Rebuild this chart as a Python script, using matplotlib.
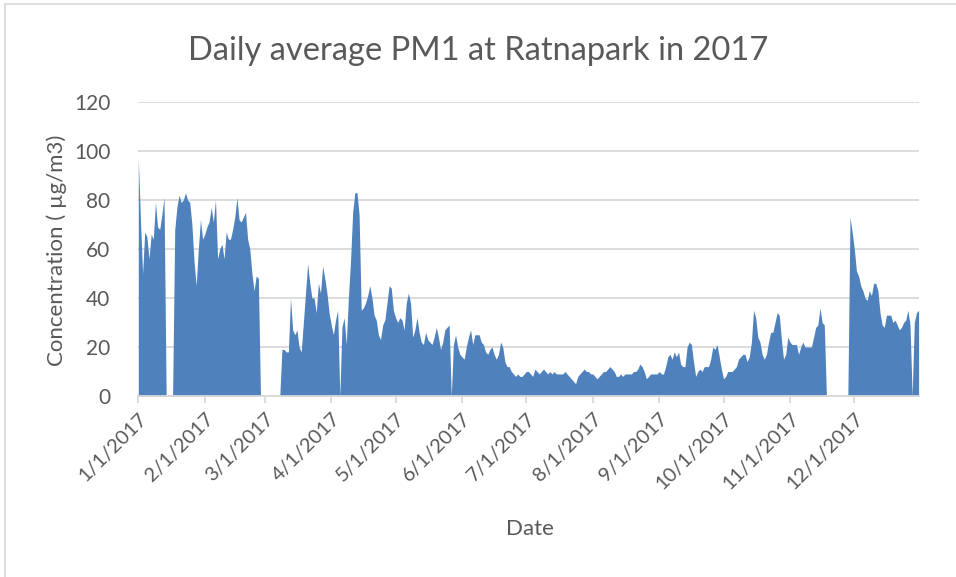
import numpy as np
import pandas as pd
import matplotlib
matplotlib.use('Agg')
from matplotlib import pyplot as plt
from matplotlib.patches import Rectangle

plt.rcParams['font.family'] = ['Lato', 'DejaVu Sans']

# daily average PM1 (ug/m3), one list per month, 0 = no data
jan = [97, 72, 50, 67, 65, 56, 66, 64, 79, 69, 68, 74, 81, 0, 0, 0, 0, 68, 77, 82,
       79, 80, 83, 80, 79, 70, 55, 45, 60, 72, 64]
feb = [66, 69, 71, 77, 71, 80, 56, 60, 62, 56, 67, 64, 64, 68, 73, 81, 72, 71, 73, 75,
       64, 60, 50, 43, 49, 48, 0, 0]
mar = [0, 0, 0, 0, 0, 0, 0, 0, 19, 19, 18, 18, 40, 27, 25, 27, 20, 18, 30, 42,
       54, 46, 40, 40, 34, 46, 42, 53, 48, 42, 34]
apr = [29, 25, 31, 35, 0, 28, 32, 21, 40, 55, 75, 83, 83, 74, 35, 36, 38, 41, 45, 40,
       33, 31, 25, 23, 29, 31, 38, 45, 44, 35]
may = [32, 30, 32, 31, 27, 38, 42, 38, 24, 27, 32, 26, 22, 21, 26, 23, 22, 21, 24, 28,
       24, 19, 22, 27, 28, 29, 0, 21, 25, 20, 17]
jun = [16, 15, 20, 24, 27, 21, 25, 25, 25, 22, 21, 18, 17, 19, 20, 17, 15, 17, 22, 20,
       14, 12, 12, 10, 9, 8, 9, 8, 8, 9]
jul = [10, 10, 9, 8, 11, 10, 9, 10, 11, 10, 9, 10, 9, 10, 9, 9, 9, 9, 10, 9,
       8, 7, 6, 5, 8, 9, 10, 11, 10, 10, 9]
aug = [9, 8, 7, 8, 9, 10, 10, 11, 12, 11, 10, 8, 8, 9, 8, 9, 9, 9, 9, 10,
       10, 11, 13, 12, 10, 7, 8, 9, 9, 9, 9]
sep = [10, 9, 9, 12, 16, 17, 15, 18, 16, 18, 13, 12, 12, 20, 22, 21, 14, 8, 10, 11,
       10, 12, 12, 12, 15, 20, 19, 21, 16, 11]
oct_ = [7, 8, 10, 10, 10, 11, 12, 15, 16, 17, 17, 14, 16, 22, 35, 32, 24, 22, 17, 15,
        17, 22, 26, 26, 30, 34, 33, 23, 15, 17, 24]
nov = [22, 21, 21, 21, 17, 20, 22, 20, 20, 20, 20, 24, 28, 29, 36, 30, 29, 0, 0, 0,
       0, 0, 0, 0, 0, 0, 0, 0, 73, 67]
dec = [60, 51, 49, 45, 43, 40, 39, 43, 41, 46, 46, 43, 34, 29, 28, 33, 33, 33, 30, 31,
       29, 27, 28, 30, 31, 35, 29, 0, 30, 34, 35]

pm1 = jan + feb + mar + apr + may + jun + jul + aug + sep + oct_ + nov + dec
dates = pd.date_range('2017-01-01', '2017-12-31', freq='D')
month_ticks = pd.date_range('2017-01-01', '2017-12-01', freq='MS')
tick_labels = ['%d/1/2017' % m for m in range(1, 13)]

grey = '#595959'
fig = plt.figure(figsize=(9.56, 5.77), dpi=100)
fig.patches.append(Rectangle((5 / 956, -0.1), 1.1, 1 - 3.5 / 577 + 0.1, transform=fig.transFigure,
                             fill=False, edgecolor='#D9D9D9', linewidth=1.2))
ax = fig.add_axes([138.3 / 956, 1 - 396 / 577, (918.6 - 138.3) / 956, (396 - 102) / 577])

ax.fill_between(dates, pm1, 0, color='#4F81BD', linewidth=0)
ax.set_xlim(dates[0], dates[-1])
ax.set_ylim(0, 120)
ax.set_yticks(range(0, 121, 20))
ax.yaxis.grid(True, color='#D9D9D9', linewidth=1.3)
ax.set_axisbelow(True)
ax.set_xticks(month_ticks)
ax.set_xticklabels(tick_labels, rotation=45, ha='right', rotation_mode='anchor')
for s in ['top', 'right', 'left']:
    ax.spines[s].set_visible(False)
ax.spines['bottom'].set_color('#D9D9D9')
ax.spines['bottom'].set_linewidth(1.3)
ax.tick_params(axis='x', colors='#D9D9D9', length=5, width=1.3, labelcolor=grey, labelsize=14.5, pad=5)
ax.tick_params(axis='y', length=0, labelcolor=grey, labelsize=15, pad=20)

fig.text(478 / 956, 1 - 60 / 577, 'Daily average PM1 at Ratnapark in 2017', color=grey,
         fontsize=23.5, ha='center', va='baseline')
fig.text(530 / 956, 1 - 535 / 577, 'Date', color=grey, fontsize=16, ha='center', va='baseline')
fig.text(57 / 956, 1 - 250 / 577, 'Concentration ( µg/m3)', color=grey, fontsize=16,
         rotation=90, ha='center', va='center')

fig.savefig('out.png', dpi=100)
